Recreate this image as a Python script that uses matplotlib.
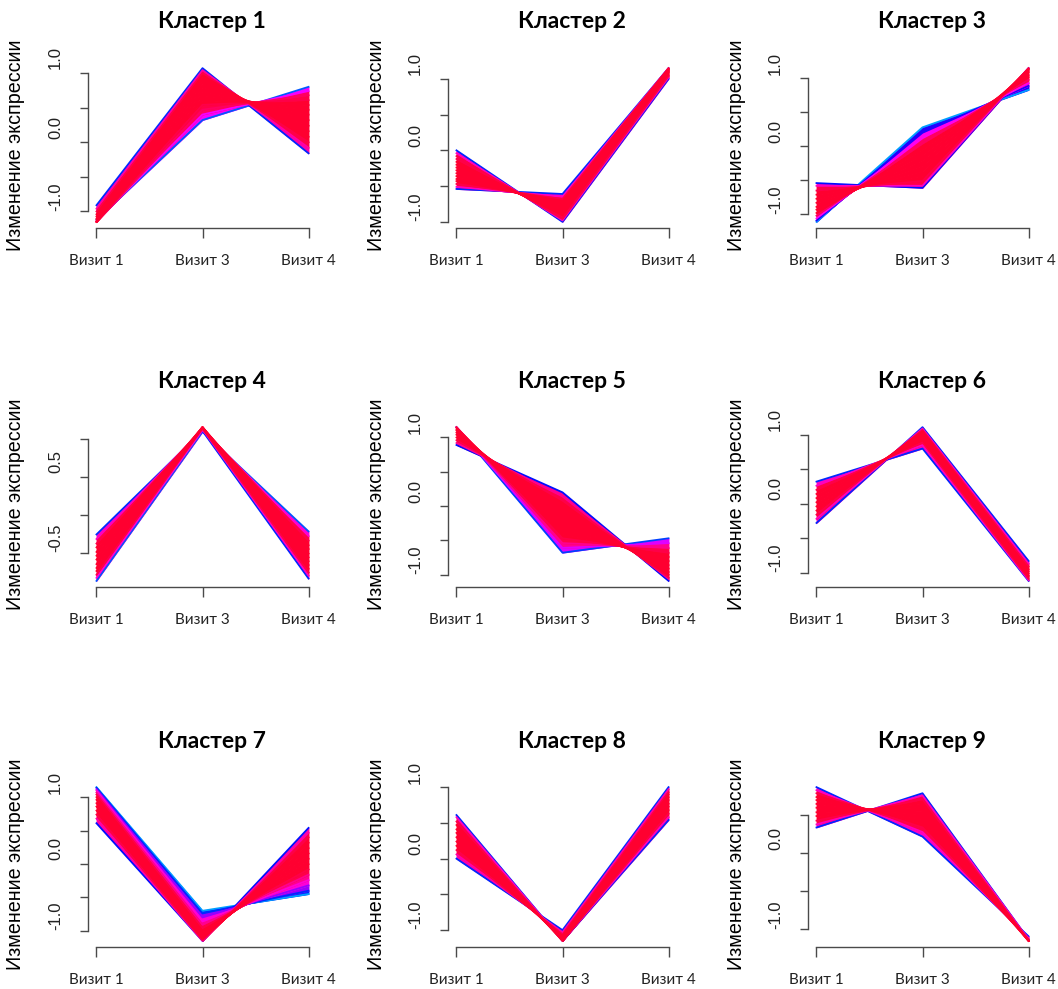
import matplotlib
matplotlib.use("Agg")
import matplotlib.pyplot as plt
import matplotlib.transforms as mtransforms
import numpy as np

visits = ["Визит 1", "Визит 3", "Визит 4"]
titles = ["Кластер 1", "Кластер 2", "Кластер 3", "Кластер 4", "Кластер 5",
          "Кластер 6", "Кластер 7", "Кластер 8", "Кластер 9"]
ylabel = "Изменение экспрессии"

# Mfuzz default colour sequence (low membership -> high membership)
mfuzz_colors = ["#FF8F00", "#FFA700", "#FFBF00", "#FFD700", "#FFEF00", "#F7FF00",
                "#DFFF00", "#C7FF00", "#AFFF00", "#97FF00", "#80FF00", "#68FF00",
                "#50FF00", "#38FF00", "#20FF00", "#08FF00", "#00FF10", "#00FF28",
                "#00FF40", "#00FF58", "#00FF70", "#00FF87", "#00FF9F", "#00FFB7",
                "#00FFCF", "#00FFE7", "#00FFFF", "#00E7FF", "#00CFFF", "#00B7FF",
                "#009FFF", "#0087FF", "#0070FF", "#0058FF", "#0040FF", "#0028FF",
                "#0010FF", "#0800FF", "#2000FF", "#3800FF", "#5000FF", "#6800FF",
                "#8000FF", "#9700FF", "#AF00FF", "#C700FF", "#DF00FF", "#F700FF",
                "#FF00EF", "#FF00D7", "#FF00BF", "#FF00A7", "#FF008F", "#FF0078",
                "#FF0060", "#FF0048", "#FF0030", "#FF0018"]

# standardised profiles (Визит 1, Визит 3, Визит 4) and memberships,
# listed in order across each bundle
cl1_profiles = [(-0.91, 1.07, -0.16), (-0.96, 1.04, -0.08), (-1.00, 1.00, 0.00),
                (-1.04, 0.96, 0.08), (-1.07, 0.91, 0.16), (-1.10, 0.86, 0.24),
                (-1.12, 0.80, 0.32), (-1.14, 0.74, 0.40), (-1.15, 0.68, 0.47),
                (-1.15, 0.61, 0.54), (-1.15, 0.54, 0.61), (-1.15, 0.47, 0.68),
                (-1.14, 0.40, 0.74), (-1.12, 0.32, 0.80)]
cl1_membership = [0.62, 0.90, 0.97, 0.98, 0.99, 0.99, 0.99, 0.99, 0.98, 0.98,
                  0.97, 0.95, 0.82, 0.58]

cl2_profiles = [(-0.54, -0.61, 1.15), (-0.51, -0.65, 1.15), (-0.47, -0.68, 1.15),
                (-0.43, -0.71, 1.14), (-0.40, -0.74, 1.14), (-0.36, -0.77, 1.13),
                (-0.32, -0.80, 1.12), (-0.28, -0.83, 1.11), (-0.24, -0.86, 1.10),
                (-0.20, -0.89, 1.09), (-0.16, -0.91, 1.07), (-0.12, -0.93, 1.05),
                (-0.08, -0.96, 1.04), (-0.04, -0.98, 1.02), (0.00, -1.00, 1.00)]
cl2_membership = [0.62, 0.88, 0.96, 0.98, 0.99, 0.99, 0.99, 0.99, 0.99, 0.98,
                  0.98, 0.97, 0.96, 0.88, 0.62]

cl3_profiles = [(-1.11, 0.28, 0.83), (-1.09, 0.20, 0.89), (-1.06, 0.12, 0.93),
                (-1.02, 0.04, 0.98), (-0.98, -0.04, 1.02), (-0.93, -0.12, 1.05),
                (-0.89, -0.20, 1.09), (-0.83, -0.28, 1.11), (-0.77, -0.36, 1.13),
                (-0.71, -0.43, 1.14), (-0.65, -0.51, 1.15), (-0.58, -0.58, 1.15),
                (-0.54, -0.61, 1.15)]
cl3_membership = [0.52, 0.66, 0.84, 0.95, 0.98, 0.99, 0.99, 0.99, 0.99, 0.98,
                  0.97, 0.88, 0.64]

cl4_profiles = [(-0.26, 1.10, -0.84), (-0.32, 1.12, -0.80), (-0.38, 1.13, -0.76),
                (-0.43, 1.14, -0.71), (-0.49, 1.15, -0.66), (-0.54, 1.15, -0.61),
                (-0.59, 1.15, -0.56), (-0.65, 1.15, -0.51), (-0.70, 1.15, -0.45),
                (-0.74, 1.14, -0.40), (-0.79, 1.13, -0.34), (-0.83, 1.11, -0.28),
                (-0.87, 1.09, -0.22)]
cl4_membership = [0.62, 0.88, 0.97, 0.98, 0.99, 0.99, 0.99, 0.99, 0.99, 0.98,
                  0.97, 0.86, 0.58]

cl5_profiles = [(1.15, -0.68, -0.47), (1.15, -0.61, -0.54), (1.15, -0.54, -0.61),
                (1.15, -0.47, -0.68), (1.14, -0.40, -0.74), (1.12, -0.32, -0.80),
                (1.10, -0.24, -0.86), (1.07, -0.16, -0.91), (1.04, -0.08, -0.96),
                (1.00, 0.00, -1.00), (0.96, 0.08, -1.04), (0.92, 0.14, -1.06),
                (0.89, 0.20, -1.09)]
cl5_membership = [0.60, 0.80, 0.92, 0.97, 0.98, 0.99, 0.99, 0.99, 0.98, 0.98,
                  0.97, 0.92, 0.64]

cl6_profiles = [(0.32, 0.80, -1.12), (0.26, 0.85, -1.11), (0.20, 0.89, -1.09),
                (0.14, 0.92, -1.06), (0.08, 0.96, -1.04), (0.02, 0.99, -1.01),
                (-0.04, 1.02, -0.98), (-0.10, 1.05, -0.95), (-0.16, 1.07, -0.91),
                (-0.22, 1.09, -0.87), (-0.28, 1.11, -0.83)]
cl6_membership = [0.62, 0.88, 0.97, 0.98, 0.99, 0.99, 0.99, 0.98, 0.97, 0.88, 0.62]

cl7_profiles = [(0.61, -1.15, 0.54), (0.68, -1.15, 0.47), (0.74, -1.14, 0.40),
                (0.80, -1.12, 0.32), (0.86, -1.10, 0.24), (0.91, -1.07, 0.16),
                (0.96, -1.04, 0.08), (1.00, -1.00, 0.00), (1.04, -0.96, -0.08),
                (1.07, -0.91, -0.16), (1.10, -0.86, -0.24), (1.12, -0.80, -0.32),
                (1.14, -0.74, -0.40), (1.15, -0.70, -0.45)]
cl7_membership = [0.64, 0.90, 0.97, 0.98, 0.99, 0.99, 0.99, 0.98, 0.96, 0.92,
                  0.86, 0.76, 0.62, 0.52]

cl8_profiles = [(0.00, -1.00, 1.00), (0.06, -1.03, 0.97), (0.12, -1.06, 0.93),
                (0.18, -1.08, 0.90), (0.24, -1.10, 0.86), (0.30, -1.12, 0.82),
                (0.36, -1.13, 0.77), (0.41, -1.14, 0.73), (0.47, -1.15, 0.68),
                (0.52, -1.15, 0.63), (0.58, -1.15, 0.58), (0.61, -1.15, 0.54)]
cl8_membership = [0.62, 0.90, 0.97, 0.98, 0.99, 0.99, 0.99, 0.99, 0.98, 0.97,
                  0.88, 0.62]

cl9_profiles = [(0.87, 0.22, -1.09), (0.83, 0.28, -1.11), (0.79, 0.34, -1.13),
                (0.74, 0.40, -1.14), (0.70, 0.45, -1.15), (0.65, 0.51, -1.15),
                (0.60, 0.56, -1.15), (0.54, 0.61, -1.15), (0.49, 0.66, -1.15),
                (0.43, 0.71, -1.14), (0.38, 0.76, -1.13), (0.34, 0.79, -1.13)]
cl9_membership = [0.62, 0.88, 0.97, 0.98, 0.99, 0.99, 0.99, 0.99, 0.98, 0.97,
                  0.88, 0.62]

clusters = [(cl1_profiles, cl1_membership), (cl2_profiles, cl2_membership),
            (cl3_profiles, cl3_membership), (cl4_profiles, cl4_membership),
            (cl5_profiles, cl5_membership), (cl6_profiles, cl6_membership),
            (cl7_profiles, cl7_membership), (cl8_profiles, cl8_membership),
            (cl9_profiles, cl9_membership)]


def mem_color(m):
    return mfuzz_colors[int(round(m * (len(mfuzz_colors) - 1)))]


W, H = 1058, 989
fig = plt.figure(figsize=(W / 100, H / 100), dpi=100)
col_left = [88, 448, 808]
row_top = [62, 421, 781]
pw, ph = 229, 166
axis_col = "#4a4a4a"
calibri_like = ["Lato", "DejaVu Sans"]

for k, (prof, mem) in enumerate(clusters):
    r, c = divmod(k, 3)
    ax = fig.add_axes([col_left[c] / W, 1 - (row_top[r] + ph) / H, pw / W, ph / H])
    prof = np.array(prof)
    mem = np.array(mem)
    x = np.arange(1, len(visits) + 1)

    # the dense bundle: fill between neighbouring profiles
    pair_mem = np.maximum(mem[:-1], mem[1:])
    for j in np.argsort(pair_mem, kind="stable"):
        col = mem_color(pair_mem[j])
        ax.fill_between(x, prof[j], prof[j + 1], color=col, lw=0.6,
                        edgecolor=col, zorder=1)
    # the profiles themselves, best members on top
    for i in np.argsort(mem, kind="stable"):
        ax.plot(x, prof[i], color=mem_color(mem[i]), lw=1.3, zorder=2)

    # R style ranges: 4% extension
    lo, hi = prof.min(), prof.max()
    pad = 0.04 * (hi - lo)
    ax.set_ylim(lo - pad, hi + pad)
    ax.set_xlim(1 - 0.04 * 2, 3 + 0.04 * 2)

    ticks = np.arange(np.ceil((lo - pad) / 0.5), np.floor((hi + pad) / 0.5) + 1) * 0.5
    labels = ["%.1f" % (round(t, 1) + 0.0) if j % 2 == 0 else "" for j, t in enumerate(ticks)]
    ax.set_yticks(ticks, labels)
    ax.set_xticks(x, visits)

    for s in ["top", "right"]:
        ax.spines[s].set_visible(False)
    for s in ["left", "bottom"]:
        ax.spines[s].set_color(axis_col)
        ax.spines[s].set_linewidth(1.0)
    ax.spines["left"].set_bounds(ticks[0], ticks[-1])
    ax.spines["bottom"].set_bounds(1, 3)

    ax.tick_params(axis="y", length=6, width=1.0, color=axis_col, pad=12,
                   labelsize=12, labelcolor="#222222", labelrotation=90)
    ax.tick_params(axis="x", length=7, width=1.0, color=axis_col, pad=12,
                   labelsize=11, labelcolor="#222222")
    for lab in ax.get_yticklabels():
        lab.set_fontfamily("Liberation Sans")
        lab.set_va("center")
    for lab in ax.get_xticklabels():
        lab.set_fontfamily(calibri_like)

    shift = mtransforms.ScaledTranslation(0, 15 / 100, fig.dpi_scale_trans)
    for t in ax.yaxis.get_major_ticks():
        t.label1.set_transform(t.label1.get_transform() + shift)

    ax.text(0.543, 1 + 40 / ph, titles[k], transform=ax.transAxes, ha="center",
            va="center", fontsize=16.5, fontweight="bold", family=calibri_like)
    ax.text(-72 / pw, 0.5, ylabel, transform=ax.transAxes, rotation=90,
            ha="center", va="center", fontsize=14.2, family="Liberation Sans")

fig.savefig("out.png", dpi=100)
